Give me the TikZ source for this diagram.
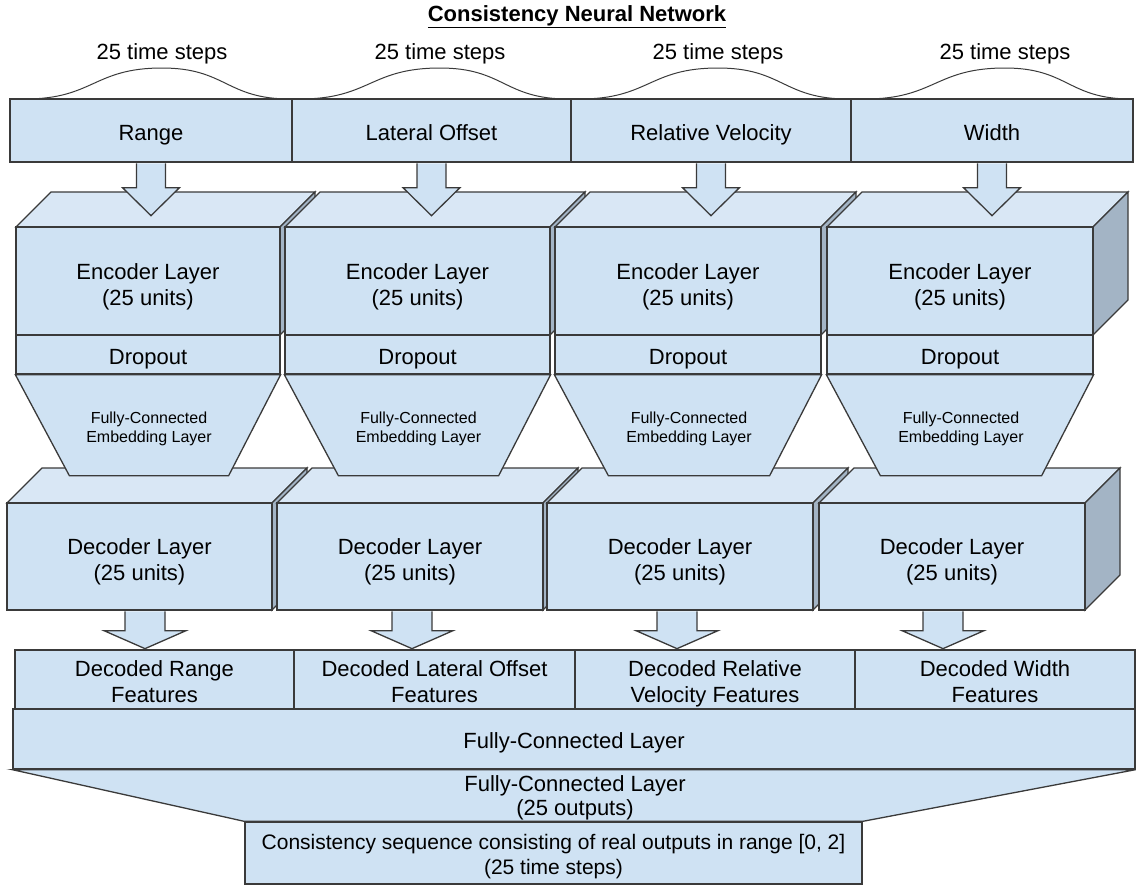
\documentclass[tikz,border=0pt]{standalone}
\usepackage{fontspec}
\setmainfont{Liberation Sans}
\definecolor{bf}{HTML}{CFE2F3}
\definecolor{tf}{HTML}{D9E7F5}
\definecolor{sf}{HTML}{A3B4C5}
\definecolor{lc}{HTML}{3A3A3A}
\newcommand\bigst{\rule[-7pt]{0pt}{33pt}}
\tikzset{
  shp/.style={draw=lc, line width=1.3pt, line join=miter, fill=bf},
  topface/.style={shp, fill=tf},
  sideface/.style={shp, fill=sf},
  boxn/.style={shp, inner sep=0pt, align=center, font=\fontsize{22}{26}\selectfont,
    execute at begin node=\bigst, execute at end node=\bigst},
  boxe/.style={shp, inner sep=0pt},
  lbl/.style={inner sep=0pt, align=center, font=\fontsize{22}{26}\selectfont,
    execute at begin node=\bigst, execute at end node=\bigst},
  mtxt/.style={inner sep=0pt, align=center, font=\fontsize{22}{26}\selectfont, yshift=-5.5pt},
  dtxt/.style={inner sep=0pt, align=center, font=\fontsize{22}{26}\selectfont},
  smalllbl/.style={inner sep=0pt, align=center, font=\fontsize{16}{18.5}\selectfont, yshift=-4pt},
  wave/.style={draw=lc, line width=1pt},
}
% 3D cube faces; #1 xl, #2 xr, #3 ytop, #4 ybot
\newcommand\cubefaces[4]{%
  \filldraw[topface] (#1,#3) -- ({#1+35},{#3-35}) -- ({#2+35},{#3-35}) -- (#2,#3) -- cycle;
  \filldraw[sideface] (#2,#3) -- ({#2+35},{#3-35}) -- ({#2+35},{#4-35}) -- (#2,#4) -- cycle;
}
% block arrow in (small) from node south
\newcommand\inarrow[1]{%
  \filldraw[shp] (#1.south) ++(-14.5,0.7) -- ++(0,24.3) -- ++(-14,0) -- ++(28.5,28) -- ++(28.5,-28) -- ++(-14,0) -- ++(0,-24.3);
}
% block arrow out (wide) from node south
\newcommand\outarrow[2]{%
  \filldraw[shp] ([xshift=#2pt]#1.south) ++(-20,0.7) -- ++(0,19.3) -- ++(-21,0) -- ++(41,18) -- ++(41,-18) -- ++(-21,0) -- ++(0,-19.3);
}
\newcommand\waveline[3]{%
  \draw[wave] (#1,99) .. controls ({(#1+#2)/2},99) and ({(#1+#2)/2},68) .. (#2,68)
     .. controls ({(#2+#3)/2},68) and ({(#2+#3)/2},99) .. (#3,99);
}
\begin{document}
\begin{tikzpicture}[x=1pt,y=-1pt]
\useasboundingbox (0,0) rectangle (1139,886);

% title
\node[inner sep=0pt, font=\bfseries\fontsize{22}{24}\selectfont] (title) at (577,17) {\underline{Consistency Neural Network}};

% time-step waves and labels
\waveline{25}{162}{290}
\waveline{300}{440}{568}
\waveline{580}{718}{848}
\waveline{865}{1005}{1131}
\node[lbl] (ts1) at (162,49.5) {25 time steps};
\node[lbl] (ts2) at (440,49.5) {25 time steps};
\node[lbl] (ts3) at (718,49.5) {25 time steps};
\node[lbl] (ts4) at (1005,49.5) {25 time steps};

% input boxes
\node[boxn, minimum width=282, minimum height=63] (in1) at (151,130.5) {Range};
\node[boxn, minimum width=279, minimum height=63] (in2) at (431.5,130.5) {Lateral Offset};
\node[boxn, minimum width=280, minimum height=63] (in3) at (711,130.5) {Relative Velocity};
\node[boxn, minimum width=282, minimum height=63] (in4) at (992,130.5) {Width};

% encoder cubes
\cubefaces{16}{280}{227}{335}
\node[boxe, minimum width=264, minimum height=108] (enc1) at (148,281) {};
\node[mtxt] (enc1t) at (enc1) {Encoder Layer\\(25 units)};
\cubefaces{285}{550}{227}{335}
\node[boxe, minimum width=265, minimum height=108] (enc2) at (417.5,281) {};
\node[mtxt] (enc2t) at (enc2) {Encoder Layer\\(25 units)};
\cubefaces{555}{821}{227}{335}
\node[boxe, minimum width=266, minimum height=108] (enc3) at (688,281) {};
\node[mtxt] (enc3t) at (enc3) {Encoder Layer\\(25 units)};
\cubefaces{827}{1093}{227}{335}
\node[boxe, minimum width=266, minimum height=108] (enc4) at (960,281) {};
\node[mtxt] (enc4t) at (enc4) {Encoder Layer\\(25 units)};

% dropout
\node[boxn, minimum width=264, minimum height=39] (dr1) at (148,354.5) {Dropout};
\node[boxn, minimum width=265, minimum height=39] (dr2) at (417.5,354.5) {Dropout};
\node[boxn, minimum width=266, minimum height=39] (dr3) at (688,354.5) {Dropout};
\node[boxn, minimum width=266, minimum height=39] (dr4) at (960,354.5) {Dropout};

% decoder cubes
\cubefaces{7}{272}{503}{610}
\node[boxe, minimum width=265, minimum height=107] (dec1) at (139.5,556.5) {};
\node[mtxt] (dec1t) at (dec1) {Decoder Layer\\(25 units)};
\cubefaces{277}{543}{503}{610}
\node[boxe, minimum width=266, minimum height=107] (dec2) at (410,556.5) {};
\node[mtxt] (dec2t) at (dec2) {Decoder Layer\\(25 units)};
\cubefaces{547}{813}{503}{610}
\node[boxe, minimum width=266, minimum height=107] (dec3) at (680,556.5) {};
\node[mtxt] (dec3t) at (dec3) {Decoder Layer\\(25 units)};
\cubefaces{819}{1085}{503}{610}
\node[boxe, minimum width=266, minimum height=107] (dec4) at (952,556.5) {};
\node[mtxt] (dec4t) at (dec4) {Decoder Layer\\(25 units)};

% embedding trapezoids
\filldraw[shp] (dr1.south west) -- (dr1.south east) -- ++(-52,101) -- ([xshift=54pt,yshift=-101pt]dr1.south west) -- cycle;
\filldraw[shp] (dr2.south west) -- (dr2.south east) -- ++(-52,101) -- ([xshift=54pt,yshift=-101pt]dr2.south west) -- cycle;
\filldraw[shp] (dr3.south west) -- (dr3.south east) -- ++(-52,101) -- ([xshift=54pt,yshift=-101pt]dr3.south west) -- cycle;
\filldraw[shp] (dr4.south west) -- (dr4.south east) -- ++(-52,101) -- ([xshift=54pt,yshift=-101pt]dr4.south west) -- cycle;
\node[smalllbl] (emb1) at (149,425) {Fully-Connected\\Embedding Layer};
\node[smalllbl] (emb2) at (418.5,425) {Fully-Connected\\Embedding Layer};
\node[smalllbl] (emb3) at (689,425) {Fully-Connected\\Embedding Layer};
\node[smalllbl] (emb4) at (961,425) {Fully-Connected\\Embedding Layer};

% input arrows
\inarrow{in1}
\inarrow{in2}
\inarrow{in3}
\inarrow{in4}

% output arrows
\outarrow{dec1}{5.5}
\outarrow{dec2}{2}
\outarrow{dec3}{-3}
\outarrow{dec4}{-9}

% decoded feature boxes
\node[boxe, minimum width=279, minimum height=59] (df1) at (154.5,679.5) {};
\node[dtxt, yshift=-2.5pt] (df1t) at (df1) {Decoded Range\\Features};
\node[boxe, minimum width=281, minimum height=59] (df2) at (434.5,679.5) {};
\node[dtxt, yshift=-2.5pt] (df2t) at (df2) {Decoded Lateral Offset\\Features};
\node[boxe, minimum width=280, minimum height=59] (df3) at (715,679.5) {};
\node[dtxt, yshift=-4.5pt] (df3t) at (df3) {Decoded Relative\\Velocity Features};
\node[boxe, minimum width=280, minimum height=59] (df4) at (995,679.5) {};
\node[dtxt, yshift=-2.5pt] (df4t) at (df4) {Decoded Width\\Features};

% fully-connected layer
\node[boxn, minimum width=1122, minimum height=60] (fc) at (574,739) {Fully-Connected Layer};

% output trapezoid and box
\coordinate (tl) at (fc.south west);
\coordinate (tr) at (fc.south east);
\node[boxe, minimum width=617, minimum height=62] (out) at (553.5,853) {};
\node[dtxt, font=\fontsize{21}{25}\selectfont, yshift=-4pt] (outt) at (out) {Consistency sequence consisting of real outputs in range [0, 2]\\(25 time steps)};
\filldraw[shp] (tl) -- (tr) -- (out.north east) -- (out.north west) -- cycle;
\node[dtxt, font=\fontsize{22}{24}\selectfont, yshift=-3.5pt] (fc2) at (575,794.5) {Fully-Connected Layer\\(25 outputs)};
\end{tikzpicture}
\end{document}
